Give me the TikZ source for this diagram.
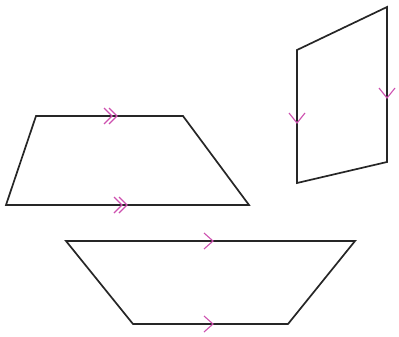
\documentclass[tikz,border=0pt]{standalone}
\definecolor{tickpink}{RGB}{205,80,175}
\begin{document}
\begin{tikzpicture}[x=1pt,y=-1pt,
  outline/.style={draw=black!85,line width=1.7pt,line join=miter},
  chev/.style={draw=tickpink,line width=1.1pt}]
\useasboundingbox (0,0) rectangle (399,337);
% trapezoid 1
\coordinate (a1) at (36,116);
\coordinate (a2) at (183,116);
\coordinate (a3) at (249,205);
\coordinate (a4) at (6,205);
\draw[outline] (a1) -- (a2) -- (a3) -- (a4) -- cycle;
% double chevrons
\foreach \t/\yy in {112/116, 117/116, 122/205, 127/205}{
  \draw[chev] (\t-8,\yy-8) -- (\t,\yy) -- (\t-8,\yy+8);
}
% parallelogram
\coordinate (b1) at (297,50);
\coordinate (b2) at (387,7);
\coordinate (b3) at (387,162);
\coordinate (b4) at (297,183);
\draw[outline] (b1) -- (b2) -- (b3) -- (b4) -- cycle;
\draw[chev] (289,113) -- (297,123) -- (305,113);
\draw[chev] (379,88) -- (387,98) -- (395,88);
% trapezoid 2
\coordinate (c1) at (66,241);
\coordinate (c2) at (355,241);
\coordinate (c3) at (288,324);
\coordinate (c4) at (133,324);
\draw[outline] (c1) -- (c2) -- (c3) -- (c4) -- cycle;
\draw[chev] (204,233) -- (213,241) -- (204,249);
\draw[chev] (204,316) -- (213,324) -- (204,332);
\end{tikzpicture}
\end{document}
